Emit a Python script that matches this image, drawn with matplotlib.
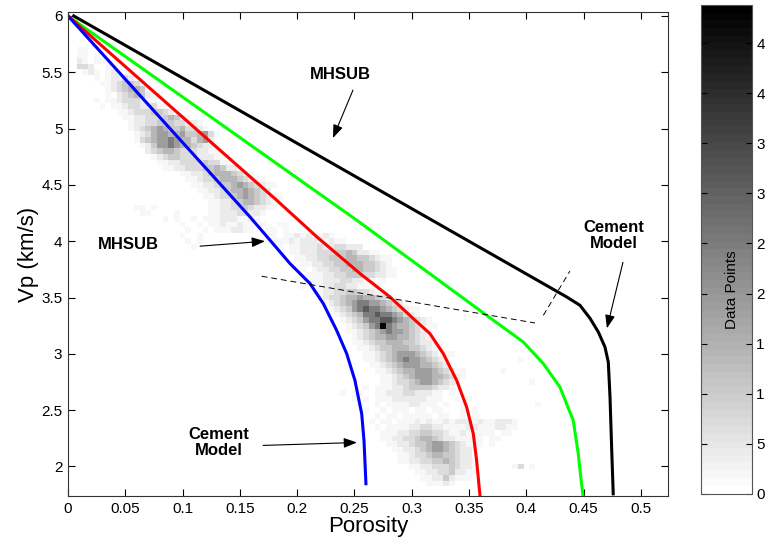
import numpy as np
import matplotlib
matplotlib.use('Agg')
import matplotlib.pyplot as plt

plt.rcParams['font.family'] = ['Liberation Sans', 'DejaVu Sans']

# ====== Data ======

# 2D histogram of well-log points: one row per Vp bin (0.05 km/s),
# (Vp centre, porosity of first cell, grey level of each 0.005 cell, 0-9)
hist_rows = [
    (5.70, 0.010, "11"),
    (5.65, 0.010, "1101"),
    (5.60, 0.010, "21011"),
    (5.55, 0.010, "332001"),
    (5.50, 0.015, "1210121"),
    (5.45, 0.025, "1012232"),
    (5.40, 0.030, "11234431"),
    (5.35, 0.035, "12345541"),
    (5.30, 0.035, "1023454211"),
    (5.25, 0.025, "10112333211"),
    (5.20, 0.030, "101123322311"),
    (5.15, 0.045, "1123334432"),
    (5.10, 0.050, "112233345421"),
    (5.05, 0.055, "1223344433221"),
    (5.00, 0.055, "12345654453321"),
    (4.95, 0.060, "123566556445631"),
    (4.90, 0.060, "13456676553562"),
    (4.85, 0.065, "12466765543221"),
    (4.80, 0.070, "2345543332211"),
    (4.75, 0.075, "1234433322211"),
    (4.70, 0.080, "1122333343311"),
    (4.65, 0.085, "11223334454221"),
    (4.60, 0.100, "1122345554321"),
    (4.55, 0.105, "11233455543211"),
    (4.50, 0.110, "112234456543211"),
    (4.45, 0.115, "1122345565432"),
    (4.40, 0.120, "11233456543211"),
    (4.35, 0.125, "1122345543211"),
    (4.30, 0.060, "11010000000001122334322110"),
    (4.25, 0.065, "1100001000001122233221"),
    (4.20, 0.085, "10100101112221121"),
    (4.15, 0.100, "1001011211211010011"),
    (4.10, 0.105, "100101112211001101"),
    (4.05, 0.100, "100100000000000110112121121"),
    (4.00, 0.105, "1010000000000101112122221211"),
    (3.95, 0.110, "100000000000000101122232233222"),
    (3.90, 0.195, "1122233344542211"),
    (3.85, 0.200, "11223344455443211"),
    (3.80, 0.205, "1122334455544321"),
    (3.75, 0.205, "10122334455443211"),
    (3.70, 0.210, "1112233444332211"),
    (3.65, 0.200, "1011122233221101"),
    (3.60, 0.205, "10112233221111"),
    (3.55, 0.215, "1122334433211"),
    (3.50, 0.220, "12334556554321"),
    (3.45, 0.225, "12345677665432"),
    (3.40, 0.230, "1234678776543211"),
    (3.35, 0.235, "123457787765321"),
    (3.30, 0.240, "1234677887654321"),
    (3.25, 0.245, "1234679765543211"),
    (3.20, 0.245, "112345676654321"),
    (3.15, 0.250, "12345566554321"),
    (3.10, 0.250, "11234455544322110000000000001"),
    (3.05, 0.255, "112344555443211"),
    (3.00, 0.260, "1123456665432111"),
    (2.95, 0.260, "1123456766543210000000000001"),
    (2.90, 0.265, "11234566655432"),
    (2.85, 0.270, "11234556665432110000001"),
    (2.80, 0.275, "112345666554321"),
    (2.75, 0.275, "112334566543210000000000001"),
    (2.70, 0.260, "1011122344443221"),
    (2.65, 0.240, "101100112223322211010000000000000000001"),
    (2.60, 0.250, "101011122222211100101"),
    (2.55, 0.255, "10010111122111010010000000000001"),
    (2.50, 0.260, "10010111011011000101"),
    (2.45, 0.270, "101101111101100101"),
    (2.40, 0.265, "10110111212112122212112221"),
    (2.35, 0.270, "1011112233221111221112211"),
    (2.30, 0.275, "11122334433211211111011"),
    (2.25, 0.275, "112233455432211111011"),
    (2.20, 0.280, "1122344566543211101"),
    (2.15, 0.285, "112234566543221"),
    (2.10, 0.290, "1123345544322"),
    (2.05, 0.290, "11223344543221"),
    (2.00, 0.300, "1122333432210000001301"),
    (1.95, 0.305, "11223342211"),
    (1.90, 0.310, "112242111"),
    (1.85, 0.315, "11121"),
]
level_counts = [0, 0.2, 0.4, 0.7, 1.0, 1.4, 1.9, 2.5, 3.2, 4.8]

# model curves (porosity, Vp km/s)
black_phi = [0.005, 0.4352, 0.4468, 0.4555, 0.4628, 0.4686, 0.4715, 0.4730, 0.4744, 0.4758]
black_vp = [6.0, 3.505, 3.431, 3.316, 3.194, 3.060, 2.927, 2.616, 2.171, 1.757]

green_phi = [0.0, 0.2519, 0.3653, 0.3973, 0.4148, 0.4293, 0.4409, 0.4453, 0.4475, 0.4494]
green_vp = [6.0, 4.187, 3.342, 3.105, 2.913, 2.705, 2.409, 2.113, 1.905, 1.742]

red_phi = [0.0, 0.1821, 0.217, 0.2548, 0.281, 0.3013, 0.3159, 0.3275, 0.3392, 0.3479,
           0.3537, 0.3566, 0.3595]
red_vp = [6.0, 4.364, 4.04, 3.713, 3.505, 3.313, 3.179, 3.002, 2.764, 2.527,
          2.29, 2.053, 1.742]

blue_phi = [0.0, 0.1588, 0.1763, 0.1937, 0.2112, 0.2228, 0.2344, 0.2432, 0.2504, 0.2563,
            0.2583, 0.2600]
blue_vp = [6.0, 4.216, 4.009, 3.802, 3.624, 3.446, 3.209, 3.002, 2.764, 2.468,
           2.231, 1.847]

# dashed guide lines
dash1_phi = [0.169, 0.4075]
dash1_vp = [3.689, 3.274]
dash2_phi = [0.4148, 0.438]
dash2_vp = [3.342, 3.735]

xtick_vals = [0, 0.05, 0.1, 0.15, 0.2, 0.25, 0.3, 0.35, 0.4, 0.45, 0.5]
xtick_labels = ['0', '0.05', '0.1', '0.15', '0.2', '0.25', '0.3', '0.35', '0.4', '0.45', '0.5']
ytick_vals = [2, 2.5, 3, 3.5, 4, 4.5, 5, 5.5, 6]
ytick_labels = ['2', '2.5', '3', '3.5', '4', '4.5', '5', '5.5', '6']
cbar_tick_vals = [0, 0.5, 1, 1.5, 2, 2.5, 3, 3.5, 4, 4.5]
cbar_tick_labels = ['0', '5', '1', '1', '2', '2', '3', '3', '4', '4']

# ====== Build histogram grid ======
dphi, dvp = 0.005, 0.05
n_col = 92
grid = np.zeros((len(hist_rows), n_col))
for k, (vp, phi0, cells) in enumerate(hist_rows):
    i0 = int(round(phi0 / dphi))
    for j, ch in enumerate(cells):
        grid[k, i0 + j] = level_counts[int(ch)]
phi_edges = np.arange(n_col + 1) * dphi - dphi / 2
vp_centres = np.array([r[0] for r in hist_rows])
vp_edges = np.append(vp_centres + dvp / 2, vp_centres[-1] - dvp / 2)

# ====== Plot ======
fig = plt.figure(figsize=(7.65, 5.41), dpi=100)
ax = fig.add_axes([0.0889, 0.0832, 0.7843, 0.8946])
cax = fig.add_axes([0.9163, 0.0869, 0.0667, 0.9039])

cmap = plt.get_cmap('gray_r', 64)
mesh = ax.pcolormesh(phi_edges, vp_edges, np.ma.masked_equal(grid, 0),
                     cmap=cmap, vmin=0, vmax=4.88, shading='flat')

ax.plot(black_phi, black_vp, color='black', lw=2.2)
ax.plot(green_phi, green_vp, color='#00ff00', lw=2.2)
ax.plot(red_phi, red_vp, color='#ff0000', lw=2.2)
ax.plot(blue_phi, blue_vp, color='#0000ff', lw=2.2)

ax.plot(dash1_phi, dash1_vp, color='black', lw=0.7, dashes=(6, 4))
ax.plot(dash2_phi, dash2_vp, color='black', lw=0.7, dashes=(6, 4))

# annotations
arrow = dict(arrowstyle='-|>,head_length=0.8,head_width=0.3', color='black',
             lw=0.8, mutation_scale=10, shrinkA=0, shrinkB=0)
ax.annotate('', xy=(0.2312, 4.916), xytext=(0.2487, 5.342), arrowprops=arrow)
ax.annotate('', xy=(0.1719, 4.0), xytext=(0.1152, 3.956), arrowprops=arrow)
ax.annotate('', xy=(0.2522, 2.213), xytext=(0.1702, 2.187), arrowprops=arrow)
ax.annotate('', xy=(0.4703, 3.227), xytext=(0.4843, 3.813), arrowprops=arrow)

bold = dict(fontsize=12, fontweight='bold', ha='center', va='center', linespacing=1.1)
ax.text(0.2378, 5.476, 'MHSUB', **bold)
ax.text(0.0528, 3.969, 'MHSUB', **bold)
ax.text(0.1318, 2.213, 'Cement\nModel', **bold)
ax.text(0.4764, 4.053, 'Cement\nModel', **bold)

ax.set_xlim(0, 0.5236)
ax.set_ylim(1.738, 6.035)
ax.set_xticks(xtick_vals)
ax.set_xticklabels(xtick_labels)
ax.set_yticks(ytick_vals)
ax.set_yticklabels(ytick_labels)
ax.tick_params(direction='in', top=True, right=True, length=5, width=0.8,
               labelsize=11, pad=4)
ax.set_xlabel('Porosity', fontsize=16, labelpad=0)
ax.set_ylabel('Vp (km/s)', fontsize=16, labelpad=2)
for sp in ax.spines.values():
    sp.set_linewidth(0.8)
    sp.set_color('#333333')

cb = fig.colorbar(mesh, cax=cax)
cb.set_ticks(cbar_tick_vals)
cb.set_ticklabels(cbar_tick_labels)
cax.tick_params(direction='in', left=True, right=True, length=4, width=0.8,
                labelsize=11, pad=3)
cb.outline.set_linewidth(0.8)
cb.outline.set_edgecolor('#555555')
cax.text(0.6, 0.417, 'Data Points', rotation=90, transform=cax.transAxes,
         ha='center', va='center', fontsize=11)

fig.savefig('out.png', dpi=100)
